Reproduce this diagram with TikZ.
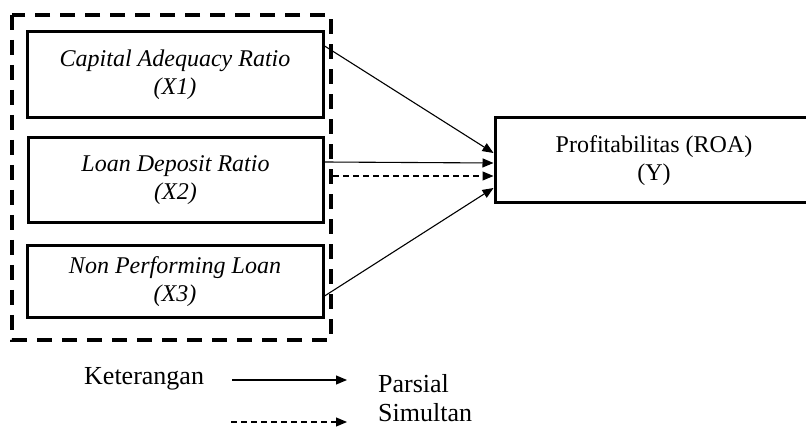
\documentclass[tikz,border=0pt]{standalone}
\usepackage{fontspec}
\setmainfont{Liberation Serif}
\usetikzlibrary{arrows.meta}
\begin{document}
\begin{tikzpicture}[x=1pt,y=-1pt,
  varbox/.style={draw,line width=3pt,inner sep=0pt,align=center,font=\fontsize{24}{28}\selectfont\itshape},
  ybox/.style={draw,line width=3pt,inner sep=0pt,align=center,font=\fontsize{24}{28}\selectfont},
  lbl/.style={inner sep=0pt,font=\fontsize{26}{28}\selectfont},
  arr/.style={line width=1.1pt,-{Triangle[length=11pt,width=9pt]}},
  darr/.style={arr,dash pattern=on 6pt off 4pt}]
\useasboundingbox (0,0) rectangle (806,427);
\draw[line width=4pt,dash pattern=on 15pt off 10pt] (12,15) rectangle (331,340);
\node[varbox,minimum width=296pt,minimum height=86pt] (x1) at (175,75) {Capital Adequacy Ratio\\(X1)};
\node[varbox,minimum width=295pt,minimum height=85pt] (x2) at (175.5,180.5) {Loan Deposit Ratio\\(X2)};
\node[varbox,minimum width=296pt,minimum height=72pt] (x3) at (175,282) {Non Performing Loan\\(X3)};
\node[ybox,minimum width=318pt,minimum height=85pt] (y) at (654,160.5) {Profitabilitas (ROA)\\(Y)};
\coordinate (a1) at (323,45);
\coordinate (a3) at (323,297);
\draw[arr] (a1) -- (y.west |- 0,153);
\draw[arr] (x2.east |- 0,162) -- (y.west |- 0,163);
\draw[darr] (333,176) -- (y.west |- 0,176);
\draw[arr] (a3) -- (y.west |- 0,188);
\node[lbl,anchor=base west] (k) at (84,385) {Keterangan};
\node[lbl,anchor=base west] (p) at (378,393) {Parsial};
\node[lbl,anchor=base west] (s) at (378,421) {Simultan};
\coordinate (ls1) at (232,380);
\coordinate (le1) at (347,380);
\coordinate (ls2) at (231,422);
\coordinate (le2) at (347,422);
\draw[arr] (ls1) -- (le1);
\draw[darr] (ls2) -- (le2);
\end{tikzpicture}
\end{document}
